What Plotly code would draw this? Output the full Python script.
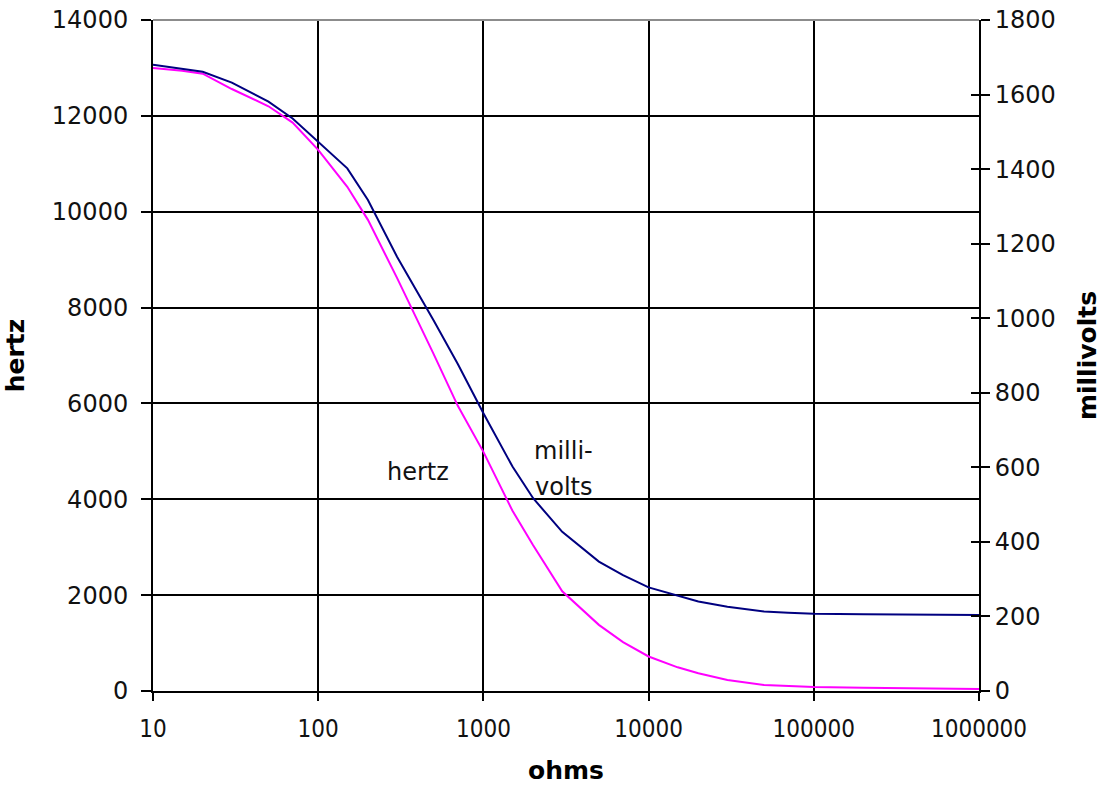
import plotly.graph_objects as go

ohms = [10, 15, 20, 30, 50, 70, 100, 150, 200, 300, 500, 700, 1000, 1500, 2000,
        3000, 5000, 7000, 10000, 15000, 20000, 30000, 50000, 70000, 100000,
        200000, 500000, 1000000]
hertz = [13000, 12940, 12880, 12560, 12200, 11860, 11290, 10520, 9830, 8620,
         7030, 5950, 4990, 3760, 3040, 2080, 1380, 1020, 720, 494, 369, 230,
         125, 104, 83, 70, 48, 42]
millivolts = [1680, 1670, 1661, 1632, 1581, 1536, 1473, 1402, 1317, 1165, 994,
              877, 745, 602, 517, 427, 347, 311, 278, 255, 240, 226, 213, 210,
              207, 206, 204, 204]

x_ticks = [10, 100, 1000, 10000, 100000, 1000000]
x_ticktext = ["10", "100", "1000", "10000", "100000", "1000000"]
hz_ticks = list(range(0, 14001, 2000))
hz_text = [str(v) for v in hz_ticks]
mv_ticks = list(range(0, 1801, 200))
mv_text = [str(v) for v in mv_ticks]

tickfont = dict(family="DejaVu Sans", size=24, color="#111111")
titlefont = dict(family="DejaVu Sans", size=25, color="#000000", weight="bold")
annfont = dict(family="DejaVu Sans", size=24, color="#111111")

fig = go.Figure()
fig.add_trace(go.Scatter(x=ohms, y=hertz, mode="lines", name="hertz",
                         line=dict(color="#FF00FF", width=2), yaxis="y"))
fig.add_trace(go.Scatter(x=ohms, y=millivolts, mode="lines", name="millivolts",
                         line=dict(color="#000080", width=2), yaxis="y2"))
# invisible helper trace so the inner right-hand tick marks get drawn
fig.add_trace(go.Scatter(x=ohms, y=millivolts, mode="lines", showlegend=False,
                         hoverinfo="skip", line=dict(width=0), opacity=0,
                         yaxis="y3"))

fig.update_layout(
    width=1105, height=785,
    margin=dict(l=153, r=126, t=20, b=94),
    paper_bgcolor="white", plot_bgcolor="white",
    showlegend=False,
    xaxis=dict(
        type="log", range=[1, 6], automargin=False,
        tickvals=x_ticks, ticktext=x_ticktext,
        tickfont=dict(family="DejaVu Sans Condensed", size=24, color="#111111"),
        ticklabelstandoff=7, ticklabeloverflow="allow",
        showgrid=True, gridcolor="black", gridwidth=2,
        showline=True, linecolor="black", linewidth=2,
        ticks="outside", ticklen=8, tickwidth=2, tickcolor="black",
        zeroline=False,
        title=dict(text="ohms", font=titlefont, standoff=20),
    ),
    yaxis=dict(
        range=[0, 14000], tickvals=hz_ticks, ticktext=hz_text, automargin=False,
        tickfont=tickfont, ticklabelstandoff=8, ticklabeloverflow="allow",
        showgrid=True, gridcolor="black", gridwidth=2,
        showline=True, linecolor="black", linewidth=2,
        ticks="outside", ticklen=10, tickwidth=2, tickcolor="black",
        zeroline=False,
        title=dict(text="hertz", font=titlefont, standoff=20),
    ),
    yaxis2=dict(
        range=[0, 1800], tickvals=mv_ticks, ticktext=mv_text,
        overlaying="y", side="right", anchor="x", automargin=False,
        tickfont=tickfont, ticklabeloverflow="allow",
        showgrid=False,
        showline=True, linecolor="black", linewidth=2,
        ticks="outside", ticklen=9, tickwidth=2, tickcolor="black",
        zeroline=False,
        title=dict(text="millivolts", font=titlefont, standoff=24),
    ),
    yaxis3=dict(
        range=[0, 1800], tickvals=mv_ticks, overlaying="y", side="right",
        anchor="x", showticklabels=False, showgrid=False, showline=False,
        ticks="inside", ticklen=8, tickwidth=2, tickcolor="black",
        zeroline=False, automargin=False,
    ),
    shapes=[
        dict(type="line", xref="paper", yref="paper", x0=0, x1=1, y0=1, y1=1,
             line=dict(color="#8c8c8c", width=2), layer="above"),
    ],
    annotations=[
        dict(x=2.604, y=4570, xref="x", yref="y", text="hertz",
             showarrow=False, font=annfont),
        dict(x=3.482, y=5010, xref="x", yref="y", text="milli-",
             showarrow=False, font=annfont),
        dict(x=3.482, y=4256, xref="x", yref="y", text="volts",
             showarrow=False, font=annfont),
    ],
)

fig.write_html(
    "out.html",
    config={"displayModeBar": False},
    post_script="document.body.style.margin='0';document.body.style.overflow='hidden';",
)
